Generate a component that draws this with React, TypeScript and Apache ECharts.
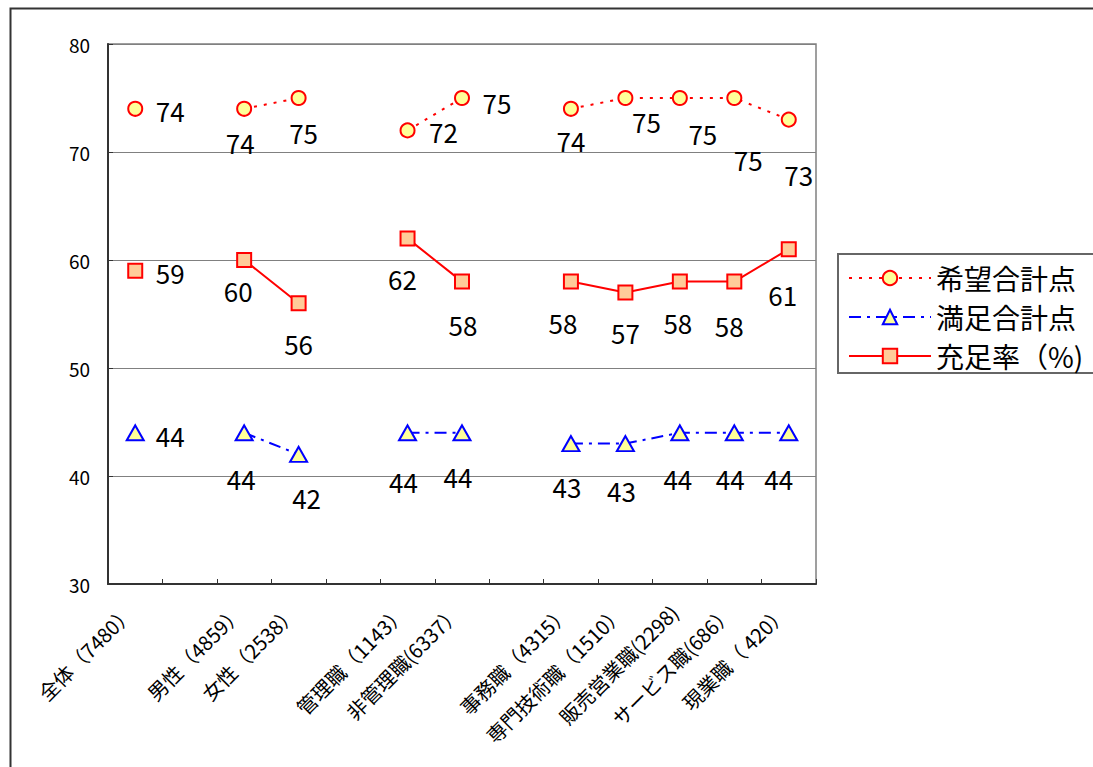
import React, { useEffect, useRef } from "react";
import * as echarts from "echarts";

// Respondent groups (blank entries separate the groups on the axis)
const categories = [
  "全体（7480）",
  " ",
  "男性（4859）",
  "女性（2538）",
  "  ",
  "管理職（1143）",
  "非管理職(6337）",
  "   ",
  "事務職（4315）",
  "専門技術職（1510）",
  "販売営業職(2298)",
  "サービス職(686）",
  "現業職（ 420）",
];

const seriesNames = ["希望合計点", "満足合計点", "充足率（%)"];

const hopeScores = [74, null, 74, 75, null, 72, 75, null, 74, 75, 75, 75, 73];
const satisfactionScores = [44, null, 44, 42, null, 44, 44, null, 43, 43, 44, 44, 44];
const fulfillmentRates = [59, null, 60, 56, null, 62, 58, null, 58, 57, 58, 58, 61];

const yTicks = { min: 30, max: 80, interval: 10 };

// Where each value label sits relative to its marker, in pixels
const hopeLabelOffsets = [[35, 2], null, [-4, 34], [5, 34], null, [36, 1], [35, 4], null, [0, 32], [21, 23], [23, 35], [14, 61], [10, 55]];
const rateLabelOffsets = [[35, 2], null, [-6, 30], [0, 40], null, [-5, 40], [1, 43], null, [-8, 41], [0, 40], [-2, 41], [-5, 44], [-6, 45]];
const satLabelOffsets = [[35, 3], null, [-3, 46], [8, 43], null, [-4, 49], [-4, 44], null, [-4, 43], [-4, 47], [-2, 46], [-4, 46], [-10, 46]];

const FONT = '"Noto Sans CJK JP", "Noto Sans", sans-serif';

function withLabels(values: (number | null)[], offsets: (number[] | null)[]) {
  return values.map((v, i) =>
    v === null ? null : { value: v, label: { offset: offsets[i] || [0, 0] } }
  );
}

export default function App() {
  const ref = useRef<HTMLDivElement>(null);

  useEffect(() => {
    if (!ref.current) return;
    const chart = echarts.init(ref.current, undefined, { renderer: "svg" });

    const labelBase = {
      show: true,
      position: "inside",
      fontSize: 26,
      color: "#000",
      fontFamily: FONT,
      formatter: (p: any) => String(p.value),
    };

    chart.setOption({
      animation: false,
      backgroundColor: "#fff",
      textStyle: { fontFamily: FONT },
      grid: {
        left: 108,
        right: 1093 - 816,
        top: 44,
        bottom: 767 - 584,
        show: true,
        borderColor: "#808080",
        borderWidth: 1.5,
        backgroundColor: "transparent",
      },
      legend: {
        orient: "vertical",
        left: 848,
        top: 264,
        padding: 0,
        itemWidth: 82,
        itemHeight: 18,
        itemGap: 11,
        selectedMode: false,
        textStyle: { fontSize: 28, color: "#000", fontFamily: FONT },
        data: seriesNames,
      },
      xAxis: {
        type: "category",
        data: categories,
        boundaryGap: true,
        axisLine: { show: true, lineStyle: { color: "#333", width: 2 } },
        axisTick: { show: true, inside: true, length: 5, alignWithLabel: false, lineStyle: { color: "#333", width: 1 } },
        axisLabel: {
          interval: 0,
          rotate: 45,
          margin: 19,
          padding: [0, 8, 40, 0],
          fontSize: 20,
          color: "#000",
          fontFamily: FONT,
        },
        splitLine: { show: false },
      },
      yAxis: {
        type: "value",
        min: yTicks.min,
        max: yTicks.max,
        interval: yTicks.interval,
        axisLine: { show: true, lineStyle: { color: "#333", width: 2 } },
        axisTick: { show: true, inside: true, length: 5, lineStyle: { color: "#333" } },
        axisLabel: { fontSize: 19, color: "#000", margin: 18, fontFamily: FONT },
        splitLine: { show: true, lineStyle: { color: "#808080", width: 1.2 } },
      },
      series: [
        {
          name: seriesNames[0],
          type: "line",
          data: withLabels(hopeScores, hopeLabelOffsets),
          connectNulls: false,
          symbol: "circle",
          symbolSize: 14,
          itemStyle: { color: "#FFFF99", borderColor: "#FF0000", borderWidth: 2 },
          lineStyle: { color: "#FF0000", width: 2, type: [3, 7] },
          label: labelBase,
          emphasis: { disabled: true },
          silent: true,
          z: 3,
        },
        {
          name: seriesNames[1],
          type: "line",
          data: withLabels(satisfactionScores, satLabelOffsets),
          connectNulls: false,
          symbol: "triangle",
          symbolSize: [17, 15],
          itemStyle: { color: "#FFFF99", borderColor: "#0000FF", borderWidth: 2 },
          lineStyle: { color: "#0000FF", width: 2, type: [12, 6, 3, 6] },
          label: labelBase,
          emphasis: { disabled: true },
          silent: true,
          z: 3,
        },
        {
          name: seriesNames[2],
          type: "line",
          data: withLabels(fulfillmentRates, rateLabelOffsets),
          connectNulls: false,
          symbol: "rect",
          symbolSize: 14,
          itemStyle: { color: "#FFCC99", borderColor: "#FF0000", borderWidth: 2 },
          lineStyle: { color: "#FF0000", width: 2, type: "solid" },
          label: labelBase,
          emphasis: { disabled: true },
          silent: true,
          z: 3,
        },
      ],
      graphic: [
        {
          type: "rect",
          left: 8,
          top: 6,
          shape: { x: 0, y: 0, width: 1200, height: 900 },
          style: { fill: "none", stroke: "#333", lineWidth: 2 },
          silent: true,
        },
        {
          type: "rect",
          shape: { x: 838, y: 254, width: 300, height: 119 },
          style: { fill: "none", stroke: "#666", lineWidth: 2 },
          silent: true,
        },
      ],
    });

    return () => chart.dispose();
  }, []);

  return (
    <div
      ref={ref}
      style={{ position: "fixed", left: 0, top: 0, width: 1093, height: 767 }}
    />
  );
}
